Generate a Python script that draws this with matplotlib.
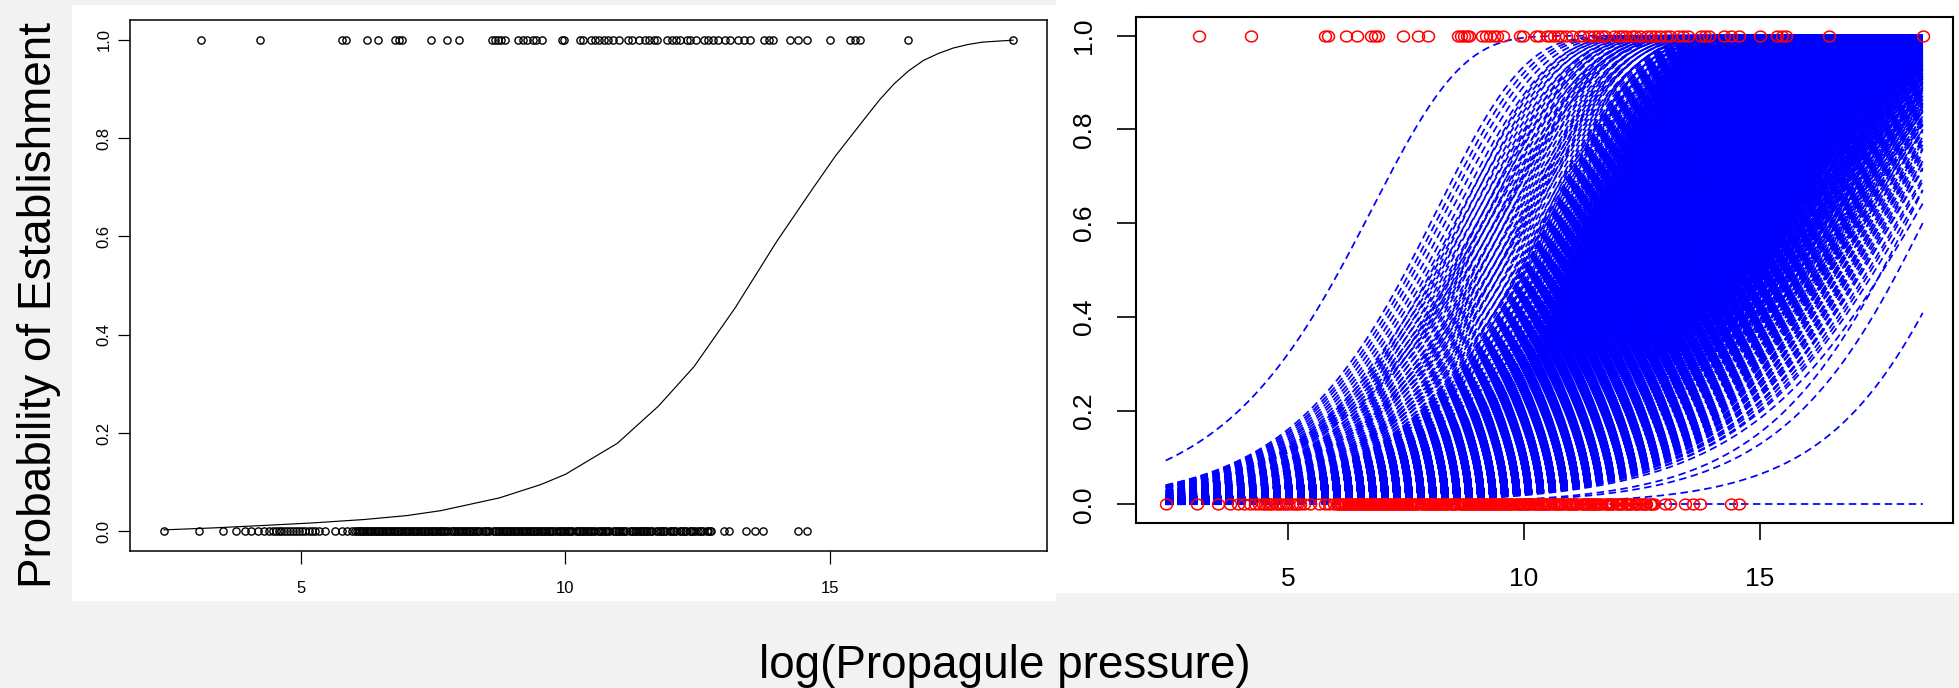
import numpy as np
import matplotlib
matplotlib.use("Agg")
import matplotlib.pyplot as plt
from matplotlib.patches import Rectangle
from matplotlib.path import Path

# ── data ─────────────────────────────────────────────────────────────────────
# log(propagule pressure) of introductions that established (y = 1)
x_established = [
    3.11, 4.22, 5.78, 5.85, 6.24, 6.46, 6.77, 6.85, 6.91, 7.45, 7.76, 7.98,
    8.61, 8.66, 8.73, 8.79, 8.85, 9.11, 9.19, 9.28, 9.38, 9.44, 9.56, 9.93,
    9.98, 10.27, 10.33, 10.49, 10.56, 10.64, 10.72, 10.80, 10.89, 11.02,
    11.19, 11.26, 11.39, 11.50, 11.57, 11.67, 11.73, 11.91, 12.01, 12.08,
    12.17, 12.29, 12.36, 12.47, 12.61, 12.70, 12.79, 12.89, 13.02, 13.11,
    13.27, 13.37, 13.48, 13.75, 13.84, 13.92, 14.25, 14.40, 14.57, 15.00,
    15.38, 15.47, 15.57, 16.48, 18.46,
]

# introductions that failed (y = 0); the 6-12.8 stretch is a solid band
x_failed = [
    2.41, 3.08, 3.52, 3.77, 3.94, 4.06, 4.19, 4.30, 4.39, 4.47, 4.52, 4.58,
    4.63, 4.67, 4.74, 4.80, 4.84, 4.90, 4.96, 5.01, 5.08, 5.15, 5.20, 5.26,
    5.34, 5.46, 5.65, 5.78, 5.87, 5.97,
    6.03, 6.06, 6.09, 6.12, 6.15, 6.18, 6.21, 6.24, 6.27, 6.30,
    6.33, 6.36, 6.39, 6.42, 6.45, 6.48, 6.51, 6.54, 6.57, 6.60,
    6.63, 6.66, 6.69, 6.72, 6.75, 6.78, 6.81, 6.84, 6.87, 6.90,
    6.93, 6.96, 6.99, 7.02, 7.05, 7.08, 7.11, 7.14, 7.17, 7.20,
    7.23, 7.26, 7.29, 7.32, 7.35, 7.38, 7.41, 7.44, 7.47, 7.50,
    7.53, 7.56, 7.59, 7.62, 7.65, 7.68, 7.71, 7.74, 7.77, 7.84,
    7.87, 7.90, 7.93, 7.96, 7.99, 8.02, 8.05, 8.08, 8.11, 8.14,
    8.17, 8.20, 8.23, 8.26, 8.29, 8.32, 8.35, 8.38, 8.44, 8.47,
    8.50, 8.53, 8.56, 8.63, 8.66, 8.69, 8.72, 8.75, 8.78,
    8.81, 8.84, 8.87, 8.90, 8.93, 8.96, 8.99, 9.02, 9.05, 9.08,
    9.11, 9.14, 9.17, 9.20, 9.23, 9.26, 9.29, 9.32, 9.35, 9.38,
    9.41, 9.44, 9.47, 9.50, 9.53, 9.56, 9.59, 9.62, 9.65, 9.68,
    9.71, 9.74, 9.77, 9.83, 9.86, 9.89, 9.92, 9.95, 9.98, 10.01,
    10.04, 10.07, 10.10, 10.13, 10.19, 10.22, 10.25, 10.28, 10.31, 10.34,
    10.37, 10.40, 10.43, 10.46, 10.49, 10.52, 10.55, 10.62, 10.65, 10.68,
    10.71, 10.74, 10.77, 10.80, 10.83, 10.90, 10.93, 10.96, 10.99, 11.02,
    11.05, 11.08, 11.11, 11.14, 11.22, 11.25, 11.28, 11.31, 11.34, 11.37,
    11.40, 11.43, 11.46, 11.49, 11.52, 11.55, 11.58, 11.61, 11.64, 11.72,
    11.75, 11.78, 11.81, 11.84, 11.87, 11.90, 11.97, 12.00, 12.03, 12.06,
    12.09, 12.16, 12.19, 12.22, 12.25, 12.28, 12.35, 12.38, 12.41, 12.44,
    12.51, 12.54, 12.57, 12.60, 12.67, 12.70, 12.73, 12.76,
    13.00, 13.10, 13.42, 13.58, 13.74, 14.40, 14.57,
]

# fitted curve of the left panel
fit_x = [2.41, 3.35, 4.30, 5.20, 6.19, 7.00, 7.64, 8.75, 9.53, 10.00, 10.98,
         11.76, 12.43, 13.21, 13.99, 14.66, 15.10, 15.66, 15.94, 16.21,
         16.49, 16.77, 17.05, 17.33, 17.60, 17.88, 18.46]
fit_y = [0.003, 0.007, 0.012, 0.017, 0.024, 0.032, 0.042, 0.068, 0.095, 0.116,
         0.179, 0.255, 0.335, 0.455, 0.589, 0.695, 0.763, 0.840, 0.878, 0.910,
         0.937, 0.958, 0.972, 0.983, 0.990, 0.995, 0.999]

# resampled fits of the right panel (cloglog link): intercepts and slopes
boot_intercepts = [
    -4.50, -4.80, -5.05, -5.30, -5.55,
    -5.80, -5.83, -5.86, -5.89, -5.92, -5.95, -5.98, -6.01, -6.04, -6.07,
    -6.10, -6.13, -6.16, -6.19, -6.22, -6.25, -6.28, -6.31, -6.34, -6.37,
    -6.40, -6.43, -6.46, -6.49, -6.52, -6.55, -6.58, -6.61, -6.64, -6.67,
    -6.70, -6.73, -6.76, -6.79, -6.82, -6.85, -6.88, -6.91, -6.94, -6.97,
    -7.00, -7.03, -7.06, -7.09, -7.12, -7.15, -7.18, -7.21, -7.24, -7.27,
    -7.30, -7.33, -7.36, -7.39, -7.42, -7.45, -7.48, -7.51, -7.54, -7.57,
    -7.60, -7.63, -7.66, -7.69, -7.72, -7.75, -7.78, -7.81, -7.84, -7.87,
    -7.90, -7.93, -7.96, -7.99, -8.02, -8.05, -8.08, -8.11, -8.14, -8.17,
    -8.20, -8.25, -8.30, -8.35, -8.40, -8.45, -8.50, -8.57, -8.65,
]
boot_slopes = [0.470, 0.477, 0.483, 0.490, 0.497, 0.503, 0.510, 0.517,
               0.523, 0.530, 0.537, 0.543, 0.550]
# isolated curves at the edges of the bundle
edge_intercepts = [-3.60, -10.05, -10.24, -11.72]
edge_slopes = [0.53, 0.55, 0.55, 0.60]
flat_level = 0.0

# ── figure ───────────────────────────────────────────────────────────────────
plt.rcParams["font.family"] = ["Liberation Sans", "DejaVu Sans"]

W, H = 1959, 688
fig = plt.figure(figsize=(W / 100, H / 100), dpi=100, facecolor="#f2f2f2")


def rect(x0, y0, x1, y1):
    # pixel box (from top-left) -> figure fraction
    return [x0 / W, 1 - y1 / H, (x1 - x0) / W, (y1 - y0) / H]


for box in (rect(72, 5, 1056, 601), rect(1056, 0, 1959, 593)):
    fig.add_artist(Rectangle(box[:2], box[2], box[3], transform=fig.transFigure,
                             facecolor="white", edgecolor="none", zorder=-1))

axL = fig.add_axes(rect(130, 20, 1047, 551))
axR = fig.add_axes(rect(1135.5, 17, 1953, 523))

x_all = np.array(x_established + x_failed)
pad = 0.04 * (x_all.max() - x_all.min())
xlim = (x_all.min() - pad, x_all.max() + pad)
yt = [0, 0.2, 0.4, 0.6, 0.8, 1.0]

for ax, lw, fs, xlen, xpad, ylen, ypad in (
        (axL, 1.1, 12, 9.4, 12, 8.6, 4.6),
        (axR, 1.5, 19, 12.2, 19.4, 13.7, 14.8)):
    ax.set_xlim(xlim)
    ax.set_ylim(-0.04, 1.04)
    ax.set_xticks([5, 10, 15])
    ax.set_xticklabels(["5", "10", "15"])
    ax.set_yticks(yt)
    ax.set_yticklabels([f"{v:.1f}" for v in yt], rotation=90, va="center")
    ax.tick_params(axis="x", direction="out", length=xlen, width=lw * 0.8,
                   pad=xpad, labelsize=fs)
    ax.tick_params(axis="y", direction="out", length=ylen, width=lw * 0.8,
                   pad=ypad, labelsize=fs)
    for s in ax.spines.values():
        s.set_linewidth(lw)
    ax.set_facecolor("white")

# left panel: observations + fitted curve
for xv, yv in ((x_established, 1.0), (x_failed, 0.0)):
    axL.plot(xv, np.full(len(xv), yv), "o", mfc="none", mec="black",
             ms=5.2, mew=1.0, zorder=3)
axL.plot(fit_x, fit_y, color="black", lw=0.85, zorder=2)

# right panel: resampled curves (dashed blue) + observations (red)
xs = np.linspace(x_all.min(), x_all.max(), 240)   # evaluation grid
dash = (0, (4.3, 2.6))
LW = 1.25


def cloglog_curve(a, b):
    return 1 - np.exp(-np.exp(a + b * xs))


for a in boot_intercepts:
    for b in boot_slopes:
        axR.plot(xs, cloglog_curve(a, b), color="#0000ff", lw=LW,
                 linestyle=dash, zorder=2)
for a, b in zip(edge_intercepts, edge_slopes):
    axR.plot(xs, cloglog_curve(a, b), color="#0000ff", lw=LW,
             linestyle=dash, zorder=2)
axR.plot(xs, np.full(len(xs), flat_level), color="#0000ff", lw=LW,
         linestyle=dash, zorder=2)

t = np.linspace(0, 2 * np.pi, 41)
oval = Path(np.column_stack([np.cos(t), 0.9 * np.sin(t)]), closed=True)
for xv, yv in ((x_established, 1.0), (x_failed, 0.0)):
    axR.plot(xv, np.full(len(xv), yv), linestyle="none", marker=oval,
             mfc="none", mec="#ff0000", ms=8.6, mew=1.1, zorder=3)

# shared axis titles
fig.text(0.0197, 0.5567, "Probability of Establishment", rotation=90,
         ha="center", va="center", fontsize=33)
fig.text(0.513, 0.032, "log(Propagule pressure)", ha="center", va="center",
         fontsize=33)

fig.savefig("out.png", dpi=100, facecolor=fig.get_facecolor())
